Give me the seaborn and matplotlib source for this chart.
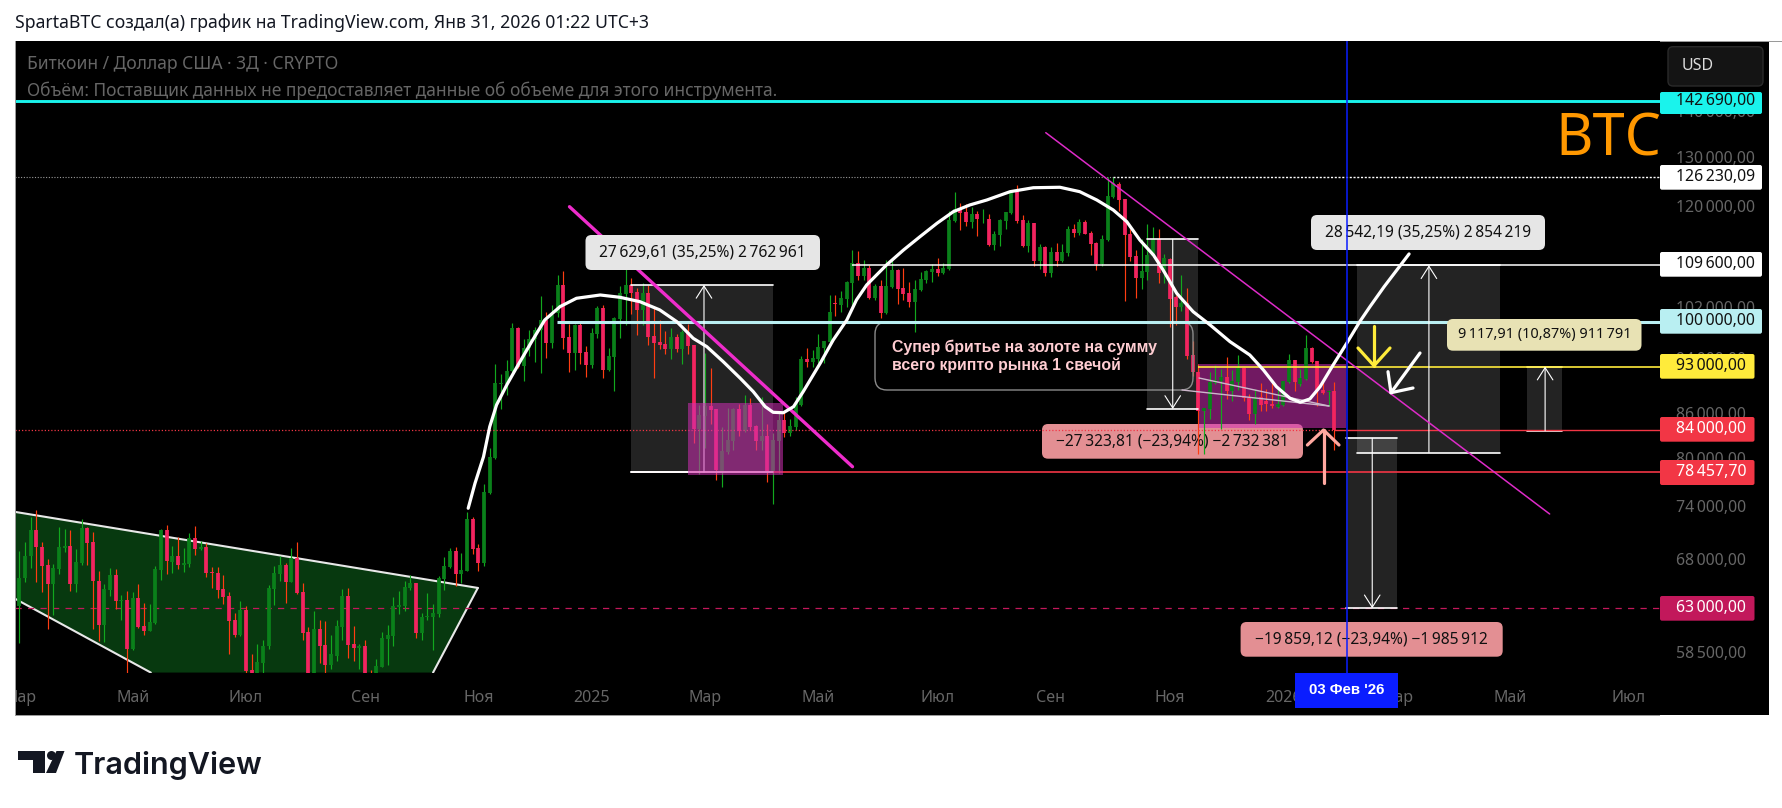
import numpy as np
import pandas as pd
import matplotlib
matplotlib.use("Agg")
import matplotlib.pyplot as plt
from matplotlib.patches import FancyBboxPatch, Rectangle, Polygon, Circle
from matplotlib.transforms import Affine2D, Bbox
import seaborn as sns

W, H = 1783, 808

# ------------------------- candle data (USD) -------------------------
direction = ("GGGRRRGGGR" "GGRRRGGRGR" "GRRGGGRGRG" "GRGRRRRRRG" "RRGGGGGRGR"
             "RRGRRGGGRR" "GRRGGGGGGG" "RGGGGGGRGG" "RRGGGGGGRG" "GGGRGGRRGR"
             "RGGRGGGGRR" "GRRRRGRGRR" "GGRRGGGRGR" "RGRGGRGGGR" "GGGGRGGGRG"
             "RGRGGRRRGG" "GGRGGGRRGR" "GRGGGGRRGR" "GRGRGGRGRR" "RGGGRRRRGG"
             "GRGRRGRRRG" "GGGRGGRRGR" "RRGGGRGGRR" "RGR")
high = [69120,70130,72970,73830,70130,68200,67640,71800,71600,71480,
        69350,72780,71800,71250,66920,65550,67200,67130,64360,64800,
        64700,65550,63560,63460,67450,71600,72070,69680,70680,69460,
        71130,71950,70240,70010,67350,67350,66500,64640,62560,63760,
        63260,58570,59520,59900,65440,67450,68570,67790,69460,70130,
        65660,61160,62760,61860,61760,60370,61860,65020,65130,61260,
        59520,59900,57060,58100,60660,61360,64170,64800,65870,66500,
        65660,62560,64530,63460,66390,68460,69460,69570,68900,73600,
        73010,69900,76950,81610,93400,91930,93990,99770,99120,97250,
        98650,99120,104190,101570,102720,107800,108500,99610,99610,99930,
        96210,98960,102550,102720,95860,100750,105900,109530,107280,105550,
        106420,106070,102550,100260,98500,98960,98030,98650,99610,96320,
        87450,95080,92840,86900,84420,87040,87040,87610,88890,88460,
        84690,88600,84820,83530,86330,86610,85500,88600,94630,95850,
        95530,98050,96950,104400,104400,105060,106750,112200,112020,110440,
        109560,106230,106930,110440,110620,108860,109040,106570,106930,108330,
        108680,109740,110720,109820,119460,123300,121110,120910,120350,119590,
        119970,119020,115800,118070,119400,123700,124700,118830,117700,117130,
        113340,112870,112690,113530,113340,116750,116940,118070,117700,115800,
        113770,115040,126230,126230,125300,121900,116180,112150,114310,116940,
        116560,116180,111430,110800,104300,107720,105490,96870,93330,86970,
        92150,93170,92580,94400,92440,94710,92870,88930,89660,90560,
        89660,90560,89660,90900,94870,93940,92580,97940,95960,93780,
        91170,89520,90740]
body_top = [66150,68570,71480,71480,69570,67570,67200,69570,69680,69680,
        67900,71720,71720,70130,65870,65020,66500,66500,63860,63860,
        64070,64070,61260,61660,67130,71480,71480,68570,68570,67790,
        70570,70570,69570,69570,66820,66710,65020,64280,61860,62860,
        62860,57060,57810,59330,65130,66710,67570,67570,68340,68340,
        64710,60660,60960,60960,59420,58480,61260,64280,64280,59520,
        59240,59240,56290,57430,60090,60370,63260,63360,65240,65660,
        65660,62160,62260,62560,66190,67450,69120,69120,67030,72780,
        72780,69460,75980,80420,90650,90650,92370,98960,98960,95860,
        97250,98650,100260,100260,101070,106070,106070,97560,99440,99440,
        95240,98190,102230,102230,94610,100590,104690,106070,106070,104860,
        104690,104690,97720,96780,96480,97560,97560,98340,98340,96320,
        86060,87310,87320,86900,81200,82670,86900,86900,87470,87470,
        84550,83210,83210,82670,85360,85360,84550,87750,94180,94180,
        94330,96000,96950,101570,103070,103900,106570,109910,109910,109040,
        109040,105900,105900,105900,108680,108680,105560,104730,105400,107100,
        108500,108860,108920,109100,117700,119970,119970,119400,119020,119020,
        118070,118070,115230,117700,119400,123500,123500,117700,117130,117130,
        112690,112690,111790,111790,111790,116180,116180,117320,117320,115420,
        113590,114310,122510,125100,124900,121900,115230,111070,108560,111250,
        114310,114310,110720,110680,104120,103120,103120,94710,92250,86970,
        90690,90980,91420,91420,90830,92730,92730,88350,88350,88500,
        87930,87630,87630,90830,93940,93940,91270,95800,95800,93780,
        89520,89380,89380]
body_bottom = [63190,66110,68490,69500,67490,65480,65480,67170,69420,65480,
        65480,67790,70010,65800,61300,61300,64920,63760,63760,58980,
        58980,61160,60760,60760,61560,67030,67940,67900,67570,67570,
        67680,69350,69350,66710,66640,64920,64170,61760,60310,60310,
        56970,56440,56440,57720,59240,65020,66610,65770,65770,64600,
        60560,56130,56130,59330,57530,57530,58380,61160,59420,59140,
        59140,56130,55500,56130,57340,60000,60280,63160,63260,65130,
        60560,60560,62160,62160,62460,66080,67350,66610,66610,66920,
        69350,67790,67790,75880,80280,90500,90500,92370,92960,93110,
        95860,97250,98650,96630,96630,101410,97410,95080,95080,95080,
        93250,93250,98030,92520,92520,94450,100430,104520,104690,101900,
        101900,97560,96630,96320,95710,95710,95710,95710,96190,84120,
        84120,85920,86760,78790,78540,81080,82540,83880,83880,84420,
        82540,82540,78540,78540,82540,83620,83620,84420,87470,93730,
        93730,94180,95850,96790,102900,102730,103730,106400,107630,107630,
        103900,103900,101400,101400,105730,105400,104560,103230,103230,105230,
        106930,108330,108230,108230,108920,117510,119210,117320,117320,117890,
        117890,113230,113230,115040,117510,119210,117510,112870,112870,110180,
        110180,108230,108230,110180,110180,111610,115420,115420,115230,113410,
        109640,109640,114130,122300,121700,115040,110900,107200,107200,108380,
        111070,108200,108380,103780,102310,102310,94560,92150,86550,86550,
        86830,90560,90830,89380,89380,90690,88350,86170,86170,87480,
        87630,87340,87200,87480,90690,90690,90400,91120,93630,89380,
        89070,89280,83920]
low = [59580,65690,67240,65690,64630,60900,62360,66540,68940,64740,
        64630,67600,67600,60900,59800,59710,64280,62890,61860,56780,
        58900,61000,60310,60690,61400,65970,66540,66710,67130,66750,
        67350,68610,69240,66220,65130,64070,63460,58570,60120,60280,
        56600,55970,55970,56780,59000,63360,65870,63560,65700,64500,
        59900,55500,55500,57720,56440,57150,57910,59900,58190,57910,
        57150,55500,55040,55820,57300,57530,59330,62460,62760,64920,
        60090,59900,61860,58950,62160,64920,67240,65340,65660,66900,
        68790,66920,67450,75760,80200,86890,88850,92220,92810,90900,
        94610,93700,92080,94300,95860,100750,95710,92220,92520,93400,
        91490,92810,97410,91290,92370,89420,97410,99440,101240,97880,
        99440,96320,91290,95710,94930,94140,95240,93400,94930,82270,
        78260,81610,84820,77510,76640,80820,81330,83210,83750,84020,
        81330,81330,77260,74560,78300,83080,83210,84020,87320,92990,
        92990,93580,93580,96630,100900,101570,102400,102400,106930,106930,
        103730,103570,100580,101240,105560,102900,103570,102400,98260,105060,
        106400,106570,107560,107890,108740,117320,115990,116750,116370,114860,
        117130,112870,112150,112870,116180,119020,117130,112690,111790,109460,
        108920,107560,107370,109460,110100,111070,114670,115040,115150,111250,
        108740,109460,113950,122110,119590,103300,110180,103800,105400,107000,
        111000,106400,106400,99070,99390,101660,94100,91580,80750,80750,
        85440,90400,84060,88210,87930,89520,87930,85310,84750,86550,
        86550,86970,86970,87340,90560,89380,90110,90980,93600,87340,
        89000,87340,81260]

# hand-drawn white curve (candle index, price)
curve_idx = [79.2,80.4,81.9,83.0,84.2,86.0,88.0,90.4,92.7,95.4,98.3,102.5,106,109.5,113,116,118.9,
             121.3,124.2,127.2,129.5,131.6,133,134.8,136.6,138.3,141.3,143.6,146,147.7,149.5,153,156,
             158.9,161.9,164.8,167.7,170.7,174.8,178.9,183.6,187.1,190.1,193,195.4,197.7,200.1,201.8,
             204.2,207.1,210.1,213.6,217.1,219.5,221.8,224.2,226,227.7,229.5,231.8,234.2,236.5,238.3,
             240.8,245.2]
curve_price = [74020,77060,80430,84420,87430,90290,93250,96820,100260,102440,103830,104380,103990,103260,
               101900,99990,97340,96040,93740,91270,89320,87190,86400,86340,87190,89320,93500,97080,100260,
               103550,106080,109560,112230,114660,117170,119390,120680,121650,123290,124080,124170,123290,
               121650,119710,117470,114050,111330,108680,104670,101610,99460,96820,94760,92500,90040,88370,
               87810,88280,90040,93250,96570,99990,102440,105790,111520]

# time axis
time_idx = [0.1,20,40,61,81,101,121,141,162,182,203,223,243,263,284]
time_labels = ["Мар","Май","Июл","Сен","Ноя","2025","Мар","Май","Июл","Сен","Ноя","2026","Мар","Май","Июл"]

# price axis
tick_prices = [140000,130000,120000,110000,102000,94000,86000,80000,74000,68000,58500]

# horizontal levels
lvl_cyan, lvl_ath, lvl_white, lvl_pale, lvl_yellow, lvl_red_dot, lvl_red, lvl_crimson = (
    142690.0, 126230.09, 109600.0, 100000.0, 93000.0, 84000.0, 78457.7, 63000.0)

# measuring boxes: left idx, right idx, bottom price, top price, arrow idx, arrow direction
box_left = [108.0,198.96,236.0,266.0,234.0]
box_right = [133.0,208.0,261.2,272.1,243.0]
box_low = [78457.7,86866,80958,83882,63000]
box_high = [106087,114190,109500,93000,82859]
box_arrow_x = [120.8,203.5,248.7,269.2,238.7]
box_arrow_up = [True,False,True,True,False]

# trendlines and triangle
thick_idx, thick_price = [97.07,147.0],[120340,79150]
thin_idx, thin_price = [181.1,270.0],[135590,73340]
tri_idx = [-0.67,80.9,73.0,23.2,-0.67]
tri_price = [73580,65100,56800,56800,63950]

# ------------------------- build -------------------------
sns.set_theme(style="dark", rc={"axes.grid": False})
plt.rcParams["font.family"] = ["Noto Sans", "DejaVu Sans"]

df = pd.DataFrame({"high": high, "top": body_top, "bottom": body_bottom, "low": low, "dir": list(direction)})
df["idx"] = np.arange(len(df))
curve = pd.DataFrame({"idx": curve_idx, "price": curve_price})

fig = plt.figure(figsize=(W/100, H/100), dpi=100, facecolor="white")
ax = fig.add_axes([15/W, (H-673)/H, 1645/W, 632/H], facecolor="black")
PX = Affine2D().scale(1, -1).translate(0, H)   # image pixel coordinates for chart furniture

fig.add_artist(Rectangle((15, 41), 1754, 674, transform=PX, fc="black", ec="none", zorder=-5))
fig.add_artist(Rectangle((15, 41), 1768, 1, transform=PX, fc="#9a9a9a", ec="none", zorder=-4))
fig.add_artist(Rectangle((14.5, 41), 1.2, 674, transform=PX, fc="#9a9a9a", ec="none", zorder=5))
fig.add_artist(Rectangle((15, 715), 1645, 1.2, transform=PX, fc="#9a9a9a", ec="none", zorder=-4))

ax.set_yscale("log")
ax.set_xlim(-0.7586, 289.47)
ax.set_ylim(56760, 157180)
for s in ax.spines.values():
    s.set_visible(False)
ax.minorticks_off()
ax.set_yticks([])
ax.set_ylabel("")

XR = 289.47
XL = -0.7586
def hline(y, x0=XL, x1=XR, z=5, **kw):
    ax.plot([x0, x1], [y, y], zorder=z, solid_capstyle="butt", **kw)

# green triangle
ax.add_patch(Polygon(np.column_stack([tri_idx, tri_price]), closed=True, fc="#07390F", ec="none", zorder=1))
for a, b in [(0, 1), (1, 2), (3, 4)]:
    ax.plot([tri_idx[a], tri_idx[b]], [tri_price[a], tri_price[b]], color="#E8E8E8", lw=1.5, zorder=1.2)

# measuring boxes
for l, r, lo, hi, ax_x, up in zip(box_left, box_right, box_low, box_high, box_arrow_x, box_arrow_up):
    ax.add_patch(Rectangle((l, lo), r-l, hi-lo, fc="white", alpha=0.14, ec="none", zorder=1.5))
    ax.plot([l, r], [lo, lo], color="white", lw=1.2, zorder=4.8)
    ax.plot([l, r], [hi, hi], color="white", lw=1.2, zorder=4.8)
    p0, p1 = (lo, hi) if up else (hi, lo)
    ax.annotate("", xy=(ax_x, p1), xytext=(ax_x, p0), zorder=5.3,
                arrowprops=dict(arrowstyle="->,head_length=0.55,head_width=0.35", color="white", lw=0.8,
                                shrinkA=0, shrinkB=0, mutation_scale=16))

def label(x0, y0, x1, y1, fc, text, z, color="#111111", fs=11.2):
    ax.add_artist(FancyBboxPatch((x0+4, y0+4), x1-x0-8, y1-y0-8, boxstyle="round,pad=4,rounding_size=6",
                                 transform=PX, fc=fc, ec="none", zorder=z, clip_on=False))
    ax.text((x0+x1)/2, (y0+y1)/2, text, transform=PX, ha="center", va="center", color=color,
            fontsize=fs, zorder=z+0.05, clip_on=False)

T = "\u2009"
label(1042, 424, 1303, 458.7, "#E38F93", f"−27{T}323,81 (−23,94%) −2{T}732{T}381", 2.0)

# purple zone under candles
ax.add_patch(Rectangle((208.0, 84240), 234.0-208.0, 93390-84240, fc="#D02FB4", alpha=0.55, ec="none", zorder=2.4))

# candles
ups = df[df.dir == "G"]
dns = df[df.dir == "R"]
ax.vlines(ups.idx, ups.low, ups.high, color="#12A81E", lw=0.85, zorder=3)
ax.vlines(dns.idx, dns.low, dns.high, color="#FF3D12", lw=0.85, zorder=3)
ax.vlines(ups.idx, ups.bottom, ups.top, color="#0A801A", lw=2.7, zorder=3.1)
ax.vlines(dns.idx, dns.bottom, dns.top, color="#F2245F", lw=2.7, zorder=3.1)

# levels
hline(lvl_cyan, color="#1AF3EC", lw=2.1, z=5)
hline(lvl_ath, x1=193, color="#9a9a9a", lw=0.8, ls=(0, (1, 1.5)), z=2)
hline(lvl_ath, x0=193, color="white", lw=1.0, ls=(0, (1.5, 1.2)), z=5)
hline(lvl_white, x0=146.9, color="white", lw=1.1, z=5)
hline(lvl_pale, x0=94.9, color="#B9EFF2", lw=2.2, z=5)
hline(lvl_yellow, x0=208, color="#FFEB3B", lw=1.2, z=5)
hline(lvl_red_dot, x1=232, color="#F23645", lw=0.9, ls=(0, (1, 1.6)), z=5)
hline(lvl_red_dot, x0=232, color="#F23645", lw=1.0, z=5)
hline(lvl_red, x0=108, color="#F23645", lw=1.2, z=4.7)
ax.plot([108, 118], [lvl_red, lvl_red], color="white", lw=1.2, zorder=4.9)
hline(lvl_crimson, color="#C2185B", lw=0.9, ls=(0, (5, 5)), z=2)

# purple zone over candles and levels
ax.add_patch(Rectangle((118.0, 78100), 134.7-118.0, 87750-78100, fc="#D02FB4", alpha=0.55, ec="none", zorder=5.5))

# trendlines
ax.plot(thick_idx, thick_price, color="#EE2CCB", lw=2.4, zorder=6, solid_capstyle="round")
ax.plot(thin_idx, thin_price, color="#DE2BC8", lw=1.1, zorder=6)

# white curve
sns.lineplot(data=curve, x="idx", y="price", estimator=None, sort=False, color="white", lw=2.3, ax=ax,
             zorder=7, legend=False)
ax.set_xlabel(""); ax.set_ylabel("")

# callout
ax.add_artist(FancyBboxPatch((887, 334), 294, 44, boxstyle="round,pad=12,rounding_size=12", transform=PX,
                             fc="none", ec="#8b8b8b", lw=1.0, zorder=4.5, clip_on=False))
for xy in [((1199, 378), (1329, 406)), ((1182, 390), (1329, 406))]:
    ax.plot([xy[0][0], xy[1][0]], [xy[0][1], xy[1][1]], transform=PX, color="#CDB6CB", lw=1.0, zorder=4.6)
ax.text(891.5, 347, "Супер бритье на золоте на сумму", transform=PX, color="#FFCDD2", fontsize=11.4,
        fontfamily="Liberation Sans", fontweight="bold", va="center", zorder=8)
ax.text(891.5, 365, "всего крипто рынка 1 свечой", transform=PX, color="#FFCDD2", fontsize=11.4,
        fontfamily="Liberation Sans", fontweight="bold", va="center", zorder=8)

# drawn arrows
def arrow(pts, color):
    for seg in pts:
        xs, ys = zip(*seg)
        ax.plot(xs, ys, transform=PX, color=color, lw=2.3, zorder=8, solid_capstyle="round", solid_joinstyle="round",
                clip_on=False)
arrow([[(1374, 326), (1374, 365.7)], [(1358, 348), (1374, 365.7), (1390, 348)]], "#FFEB3B")
arrow([[(1420, 353), (1391, 392.7)], [(1388, 371.7), (1391, 392.7), (1413, 388)]], "white")
arrow([[(1323.5, 483), (1323.5, 430)], [(1307.4, 445), (1323.5, 430), (1339, 445)]], "#FFA8A0")

# measure labels
label(585.5, 235, 820, 270, "#E6E6E6", f"27{T}629,61 (35,25%) 2{T}762{T}961", 9)
label(1311, 215, 1545, 250, "#E6E6E6", f"28{T}542,19 (35,25%) 2{T}854{T}219", 9)
label(1447, 319, 1641.5, 350.7, "#E8E2B4", f"9{T}117,91 (10,87%) 911{T}791", 9, fs=10.4)
label(1240.6, 622, 1502.7, 656.7, "#E38F93", f"−19{T}859,12 (−23,94%) −1{T}985{T}912", 9)

# blue crosshair
ax.plot([1346.6, 1346.6], [41, 673], transform=PX, color="#0A1DFF", lw=1.1, zorder=12)

# time axis
ax.set_xticks(time_idx, time_labels)
ax.tick_params(axis="x", length=0, pad=12, labelcolor="#666666", labelsize=11.5)
clip = Bbox([[15, 0], [W, H]])
for t in ax.get_xticklabels():
    t.set_clip_on(True)
    t.set_clip_box(clip)
ax.add_artist(Rectangle((1295, 673), 103, 34.7, transform=PX, fc="#0A1DFF", ec="none", zorder=13, clip_on=False))
ax.text(1346.6, 690, "03 Фев '26", transform=PX, color="white", fontsize=10.8, fontweight="bold",
        fontfamily="Liberation Sans", ha="center", va="center", zorder=14, clip_on=False)

# price axis
def price_text(y):
    s = f"{int(y):,}".replace(",", T)
    return s + ",00"
for p in tick_prices:
    ax.annotate(price_text(p), xy=(1, p), xycoords=("axes fraction", "data"), xytext=(16, 0),
                textcoords="offset pixels", color="#666666", fontsize=11.4, va="center", zorder=13,
                annotation_clip=False)
tags = [(92, 114, 1762, "#1AF3EC", "#111111", f"142{T}690,00", 101),
        (165, 189.7, 1762, "white", "#111111", f"126{T}230,09", 177),
        (252, 276.7, 1762, "white", "#111111", f"109{T}600,00", 264),
        (309, 333.7, 1762, "#B9EFF2", "#111111", f"100{T}000,00", 321),
        (354, 378.7, 1754.5, "#FFEB3B", "#111111", f"93{T}000,00", 366),
        (417, 441.7, 1754.5, "#F23645", "white", f"84{T}000,00", 429),
        (460, 485, 1754.5, "#F23645", "white", f"78{T}457,70", 472),
        (596, 620.7, 1754.5, "#C2185B", "white", f"63{T}000,00", 608)]
for y0, y1, xr, fc, col, txt, yc in tags:
    ax.add_artist(FancyBboxPatch((1662, y0+2), xr-1662-2, y1-y0-4, boxstyle="round,pad=2,rounding_size=2",
                                 transform=PX, fc=fc, ec="none", zorder=14, clip_on=False))
    ax.text(1676, yc, txt, transform=PX, color=col, fontsize=11.4, va="center", zorder=15, clip_on=False)

# BTC and USD
ax.text(1555, 140, "BTC", transform=PX, color="#FF9800", fontsize=41.5, va="center", zorder=15, clip_on=False)
ax.add_artist(FancyBboxPatch((1672, 50.7), 87, 31.3, boxstyle="round,pad=4,rounding_size=5", transform=PX,
                             fc="#141414", ec="#2A2A2A", lw=1, zorder=14, clip_on=False))
ax.text(1682, 66, "USD", transform=PX, color="#DDDDDD", fontsize=11.5, va="center", zorder=15, clip_on=False)

# headers
ax.text(27, 64, "Биткоин / Доллар США · 3Д · CRYPTO", transform=PX, color="#666666", fontsize=12.6, va="center",
        zorder=15, clip_on=False)
ax.text(27, 90.7, "Объём: Поставщик данных не предоставляет данные об объеме для этого инструмента.", transform=PX,
        color="#666666", fontsize=12.5, va="center", zorder=15, clip_on=False)
fig.text(15, 23, "SpartaBTC создал(а) график на TradingView.com, Янв 31, 2026 01:22 UTC+3", transform=PX,
         color="#131722", fontsize=12.7, va="center")

# footer logo
fig.add_artist(Rectangle((18, 751), 27, 9, transform=PX, fc="#131722", ec="none"))
fig.add_artist(Rectangle((33, 751), 12, 22, transform=PX, fc="#131722", ec="none"))
fig.add_artist(Circle((51.5, 755.5), 4.5, transform=PX, fc="#131722", ec="none"))
fig.add_artist(Polygon([(46, 773), (56, 773), (64.5, 751), (56.5, 751)], closed=True, transform=PX, fc="#131722", ec="none"))
fig.text(74, 765, "TradingView", transform=PX, color="#131722", fontsize=22, fontfamily="Inter", fontweight="semibold", va="center")

fig.savefig("out.png", dpi=100)
